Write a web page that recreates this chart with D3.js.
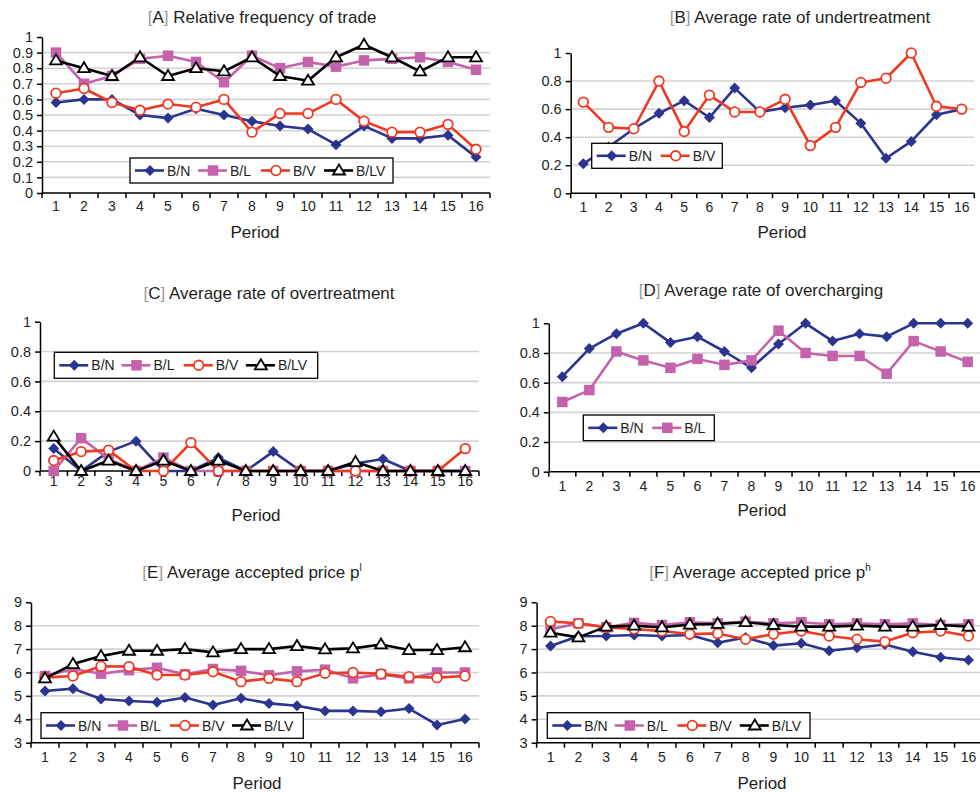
<!DOCTYPE html>
<html><head><meta charset="utf-8">
<script src="https://cdn.jsdelivr.net/npm/d3@7"></script>
<style>
body{margin:0;background:#fff}
svg{display:block}
text{font-family:"Liberation Sans",Arial,Helvetica,sans-serif;fill:#231f20}
</style>
</head><body>
<svg id="chart" width="980" height="794"></svg>
<script>
// ---------- DATA ----------
const periods = ["1","2","3","4","5","6","7","8","9","10","11","12","13","14","15","16"];
const seriesLabels = ["B/N","B/L","B/V","B/LV"];

const yTicksTrade = [0,0.1,0.2,0.3,0.4,0.5,0.6,0.7,0.8,0.9,1];
const yTicksRate  = [0,0.2,0.4,0.6,0.8,1];
const yTicksPrice = [3,4,5,6,7,8,9];

// [A] Relative frequency of trade
const tradeBN  = [0.58,0.60,0.60,0.50,0.48,0.54,0.50,0.46,0.43,0.41,0.31,0.43,0.35,0.35,0.37,0.23];
const tradeBL  = [0.90,0.70,0.75,0.86,0.88,0.84,0.71,0.88,0.80,0.84,0.81,0.85,0.86,0.87,0.84,0.79];
const tradeBV  = [0.64,0.67,0.58,0.53,0.57,0.55,0.60,0.39,0.51,0.51,0.60,0.46,0.39,0.39,0.44,0.28];
const tradeBLV = [0.85,0.80,0.75,0.87,0.75,0.80,0.78,0.87,0.75,0.72,0.87,0.95,0.87,0.78,0.87,0.87];

// [B] Average rate of undertreatment
const underBN = [0.21,0.33,0.46,0.57,0.66,0.54,0.75,0.58,0.61,0.63,0.66,0.50,0.25,0.37,0.56,0.60];
const underBV = [0.65,0.47,0.46,0.80,0.44,0.70,0.58,0.58,0.67,0.34,0.47,0.79,0.82,1.00,0.62,0.60];

// [C] Average rate of overtreatment
const overBN  = [0.15,0,0.13,0.20,0,0,0.09,0,0.13,0,0,0.05,0.08,0,0,0];
const overBL  = [0,0.22,0.08,0,0.09,0,0,0,0,0,0,0,0,0,0,0];
const overBV  = [0.07,0.13,0.14,0,0,0.19,0,0,0,0,0,0,0,0,0,0.15];
const overBLV = [0.23,0,0.07,0,0.07,0,0.07,0,0,0,0,0.06,0,0,0,0];

// [D] Average rate of overcharging
const chargeBN = [0.64,0.83,0.93,1.00,0.87,0.91,0.81,0.70,0.86,1.00,0.88,0.93,0.91,1.00,1.00,1.00];
const chargeBL = [0.47,0.55,0.81,0.75,0.70,0.76,0.72,0.75,0.95,0.80,0.78,0.78,0.66,0.88,0.81,0.74];

// [E] Average accepted price p^l
const priceLBN  = [5.21,5.31,4.87,4.78,4.73,4.93,4.61,4.90,4.68,4.58,4.36,4.36,4.32,4.46,3.76,4.01];
const priceLBL  = [5.85,6.15,5.95,6.10,6.20,5.92,6.15,6.07,5.88,6.05,6.12,5.75,5.92,5.75,6.00,6.00];
const priceLBV  = [5.78,5.85,6.27,6.25,5.89,5.89,6.03,5.61,5.75,5.61,5.97,6.00,5.94,5.82,5.78,5.85];
const priceLBLV = [5.75,6.36,6.70,6.93,6.93,7.00,6.86,7.00,7.00,7.13,6.99,7.03,7.20,6.96,6.96,7.08];

// [F] Average accepted price p^h
const priceHBN  = [7.13,7.55,7.56,7.60,7.56,7.60,7.27,7.50,7.15,7.25,6.93,7.06,7.20,6.89,6.65,6.53];
const priceHBL  = [7.85,8.10,7.93,8.12,8.03,8.15,8.10,8.17,8.10,8.15,8.06,8.10,8.06,8.10,8.03,8.06];
const priceHBV  = [8.18,8.10,7.93,7.86,7.77,7.64,7.67,7.42,7.64,7.77,7.56,7.42,7.32,7.70,7.77,7.56];
const priceHBLV = [7.70,7.50,7.96,8.00,7.93,8.05,8.08,8.15,8.03,7.96,7.96,8.00,7.96,7.96,8.03,7.96];

// ---------- STYLE ----------
const styles = {
  "B/N":  {color:"#2b3590", marker:"diamond"},
  "B/L":  {color:"#c463ab", marker:"square"},
  "B/V":  {color:"#ee3a23", marker:"circle"},
  "B/LV": {color:"#000000", marker:"triangle"}
};

const svg = d3.select("#chart");

function drawMarker(g, kind, color, x, y) {
  if (kind === "diamond") {
    const r = 5.5;
    g.append("path").attr("d", `M${x},${y-r}L${x+r},${y}L${x},${y+r}L${x-r},${y}Z`).attr("fill", color);
  } else if (kind === "square") {
    const s = 10.5;
    g.append("rect").attr("x", x-s/2).attr("y", y-s/2).attr("width", s).attr("height", s).attr("fill", color);
  } else if (kind === "circle") {
    g.append("circle").attr("cx", x).attr("cy", y).attr("r", 4.8)
      .attr("fill", "#fff").attr("stroke", color).attr("stroke-width", 1.8);
  } else if (kind === "triangle") {
    const w = 6, h = 10;
    g.append("path").attr("d", `M${x},${y-h*0.6}L${x+w},${y+h*0.4}L${x-w},${y+h*0.4}Z`)
      .attr("fill", "#fff").attr("stroke", color).attr("stroke-width", 1.8).attr("stroke-linejoin","miter");
  }
}

function drawPanel(cfg) {
  const g = svg.append("g");
  const x = d3.scaleBand().domain(periods).range([cfg.x0, cfg.x1]);
  const y = d3.scaleLinear().domain(cfg.domain).range([cfg.yBot, cfg.yTop]);
  const cx = p => x(p) + x.bandwidth() / 2;

  // gridlines
  g.append("g").selectAll("line").data(cfg.yTicks.slice(1, -1)).join("line")
    .attr("x1", cfg.x0).attr("x2", cfg.x1)
    .attr("y1", d => y(d)).attr("y2", d => y(d))
    .attr("stroke", "#d3d3d3").attr("stroke-width", 1.6);

  // y axis
  const ya = g.append("g").attr("transform", `translate(${cfg.x0},0)`)
    .call(d3.axisLeft(y).tickValues(cfg.yTicks).tickSize(5).tickSizeOuter(0).tickPadding(4)
      .tickFormat(cfg.fmt));
  ya.selectAll("path,line").attr("stroke", "#000").attr("stroke-width", 1.5);
  ya.selectAll("text").attr("font-size", 14.5).style("font-family", '"Liberation Sans",Arial,sans-serif').attr("fill", "#231f20");

  // x axis baseline
  g.append("line").attr("x1", cfg.x0).attr("x2", cfg.x1).attr("y1", cfg.yBot).attr("y2", cfg.yBot)
    .attr("stroke", "#000").attr("stroke-width", 1.5);
  const bounds = periods.map(p => x(p)).concat([x.range()[1]]);
  g.append("g").selectAll("line").data(bounds).join("line")
    .attr("x1", d => d).attr("x2", d => d).attr("y1", cfg.yBot).attr("y2", cfg.yBot + 5)
    .attr("stroke", "#000").attr("stroke-width", 1.5);
  g.append("g").selectAll("text").data(periods).join("text")
    .attr("x", d => cx(d)).attr("y", cfg.yBot + cfg.xLabOff)
    .attr("text-anchor", "middle").attr("font-size", 14).text(d => d);

  // x axis title
  g.append("text").attr("x", cfg.periodX).attr("y", cfg.periodY).attr("text-anchor", "middle")
    .attr("font-size", 17).text("Period");

  // title
  const t = g.append("text").attr("x", cfg.titleX).attr("y", cfg.titleY).attr("text-anchor", "middle")
    .attr("font-size", 17);
  t.append("tspan").attr("fill", "#9a9a9a").text("[");
  t.append("tspan").text(cfg.letter);
  t.append("tspan").attr("fill", "#9a9a9a").text("]");
  t.append("tspan").text(" " + cfg.title);
  if (cfg.sup) {
    t.append("tspan").attr("font-size", 10).attr("dy", -7).text(cfg.sup);
  }

  // series
  const line = d3.line().x((d, i) => cx(periods[i])).y(d => y(d));
  cfg.series.forEach(s => {
    const st = styles[s.name];
    const sg = g.append("g");
    sg.append("path").datum(s.values).attr("d", line).attr("fill", "none")
      .attr("stroke", st.color).attr("stroke-width", 2.6).attr("stroke-linejoin", "round");
    s.values.forEach((v, i) => drawMarker(sg, st.marker, st.color, cx(periods[i]), y(v)));
  });

  // legend
  const L = cfg.legend;
  const lg = g.append("g");
  lg.append("rect").attr("x", L.x).attr("y", L.y).attr("width", L.w).attr("height", L.h)
    .attr("fill", "#fff").attr("stroke", "#000").attr("stroke-width", 1.3);
  cfg.series.forEach((s, i) => {
    const st = styles[s.name];
    const ix = L.x + 5 + i * L.step, iy = L.y + L.h / 2;
    lg.append("line").attr("x1", ix).attr("x2", ix + 29).attr("y1", iy).attr("y2", iy)
      .attr("stroke", st.color).attr("stroke-width", 2.6);
    drawMarker(lg, st.marker, st.color, ix + 15, iy);
    lg.append("text").attr("x", ix + 32).attr("y", iy + 5).attr("font-size", 14).text(s.name);
  });
}

const f1 = d3.format(".1~f");
const f0 = d3.format("d");

drawPanel({letter:"A", title:"Relative frequency of trade", titleX:262, titleY:23,
  x0:42, x1:490, yTop:37, yBot:193, domain:[0,1], yTicks:yTicksTrade, fmt:f1, xLabOff:18,
  periodX:255, periodY:238,
  series:[{name:seriesLabels[0], values:tradeBN},{name:seriesLabels[1], values:tradeBL},
          {name:seriesLabels[2], values:tradeBV},{name:seriesLabels[3], values:tradeBLV}],
  legend:{x:130, y:158, w:263, h:25, step:63}});

drawPanel({letter:"B", title:"Average rate of undertreatment", titleX:800, titleY:23,
  x0:570.7, x1:974.3, yTop:53, yBot:193.3, domain:[0,1], yTicks:yTicksRate, fmt:f1, xLabOff:19,
  periodX:782, periodY:238,
  series:[{name:seriesLabels[0], values:underBN},{name:seriesLabels[2], values:underBV}],
  legend:{x:591.7, y:143.3, w:130.6, h:25, step:64}});

drawPanel({letter:"C", title:"Average rate of overtreatment", titleX:269, titleY:299,
  x0:40, x1:479, yTop:321.7, yBot:471, domain:[0,1], yTicks:yTicksRate, fmt:f1, xLabOff:15,
  periodX:256, periodY:521,
  series:[{name:seriesLabels[0], values:overBN},{name:seriesLabels[1], values:overBL},
          {name:seriesLabels[2], values:overBV},{name:seriesLabels[3], values:overBLV}],
  legend:{x:54.3, y:352.3, w:263.4, h:26, step:62.2}});

drawPanel({letter:"D", title:"Average rate of overcharging", titleX:761, titleY:296,
  x0:548.8, x1:981.2, yTop:323.3, yBot:471.7, domain:[0,1], yTicks:yTicksRate, fmt:f1, xLabOff:19,
  periodX:762, periodY:516,
  series:[{name:seriesLabels[0], values:chargeBN},{name:seriesLabels[1], values:chargeBL}],
  legend:{x:583.3, y:415, w:131, h:25.7, step:64}});

drawPanel({letter:"E", title:"Average accepted price p", sup:"l", titleX:252, titleY:578,
  x0:31, x1:479, yTop:602.3, yBot:742.7, domain:[3,9], yTicks:yTicksPrice, fmt:f0, xLabOff:19,
  periodX:257, periodY:789,
  series:[{name:seriesLabels[0], values:priceLBN},{name:seriesLabels[1], values:priceLBL},
          {name:seriesLabels[2], values:priceLBV},{name:seriesLabels[3], values:priceLBLV}],
  legend:{x:41, y:712.7, w:262.3, h:25.6, step:62}});

drawPanel({letter:"F", title:"Average accepted price p", sup:"h", titleX:760, titleY:578,
  x0:536.6, x1:982.4, yTop:602.3, yBot:742.7, domain:[3,9], yTicks:yTicksPrice, fmt:f0, xLabOff:19,
  periodX:762, periodY:789,
  series:[{name:seriesLabels[0], values:priceHBN},{name:seriesLabels[1], values:priceHBL},
          {name:seriesLabels[2], values:priceHBV},{name:seriesLabels[3], values:priceHBLV}],
  legend:{x:547.3, y:712.7, w:262.7, h:25.6, step:62.5}});
</script>
</body></html>
